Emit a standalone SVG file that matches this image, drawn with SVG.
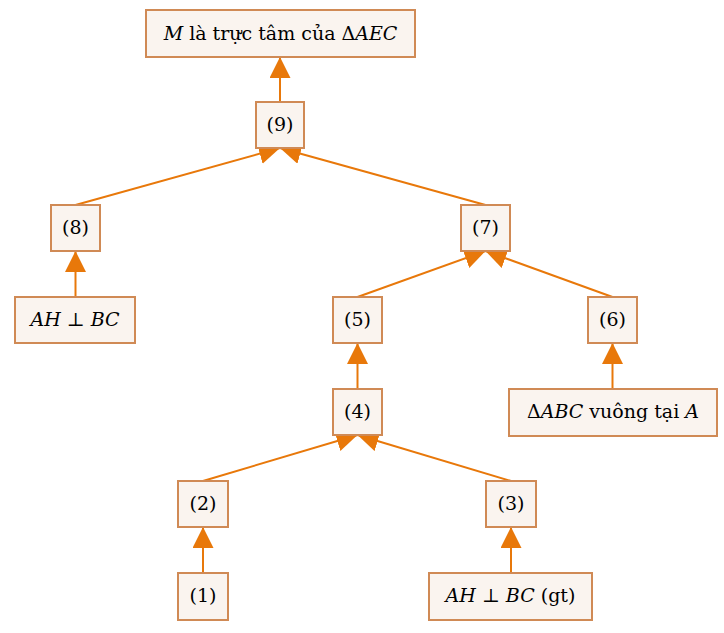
<svg xmlns="http://www.w3.org/2000/svg" width="724" height="633" viewBox="0 0 724 633">
<style>
.box{fill:#faf4ef;stroke:#d08a55;stroke-width:2}
.t{font-family:"DejaVu Serif","Liberation Serif",serif;font-size:19px;fill:#000;text-anchor:middle}
.i{font-style:italic}
.e{fill:none;stroke:#e8780a;stroke-width:2}
</style>
<defs>
<marker id="ah" markerUnits="userSpaceOnUse" markerWidth="24" markerHeight="24" refX="21" refY="10.5" orient="auto" viewBox="0 0 24 24">
<path d="M0,0 L21,10.5 L0,21 z" fill="#e8780a"/>
</marker>
</defs>
<g id="connectors">
<line class="e" x1="280" y1="102" x2="280" y2="57" marker-end="url(#ah)"/>
<line class="e" x1="75.5" y1="205" x2="280" y2="148" marker-end="url(#ah)"/>
<line class="e" x1="485.5" y1="205" x2="280" y2="148" marker-end="url(#ah)"/>
<line class="e" x1="75.5" y1="297" x2="75.5" y2="251" marker-end="url(#ah)"/>
<line class="e" x1="357.5" y1="297" x2="485.5" y2="251" marker-end="url(#ah)"/>
<line class="e" x1="612.5" y1="297" x2="485.5" y2="251" marker-end="url(#ah)"/>
<line class="e" x1="357.5" y1="389" x2="357.5" y2="343" marker-end="url(#ah)"/>
<line class="e" x1="612.5" y1="389" x2="612.5" y2="343" marker-end="url(#ah)"/>
<line class="e" x1="203" y1="481" x2="357.5" y2="435" marker-end="url(#ah)"/>
<line class="e" x1="511" y1="481" x2="357.5" y2="435" marker-end="url(#ah)"/>
<line class="e" x1="203" y1="573" x2="203" y2="527" marker-end="url(#ah)"/>
<line class="e" x1="511" y1="573" x2="511" y2="527" marker-end="url(#ah)"/>
</g>
<g id="top">
<rect class="box" x="146" y="10" width="269" height="47"/>
<text class="t" x="280.5" y="40"><tspan class="i">M</tspan> là trực tâm của Δ<tspan class="i">AEC</tspan></text>
</g>
<g id="n9">
<rect class="box" x="256" y="102" width="48" height="46"/>
<text class="t" x="280" y="131">(9)</text>
</g>
<g id="n8">
<rect class="box" x="51" y="205" width="49" height="46"/>
<text class="t" x="75.5" y="234">(8)</text>
</g>
<g id="n7">
<rect class="box" x="461" y="205" width="49" height="46"/>
<text class="t" x="485.5" y="234">(7)</text>
</g>
<g id="ahbc1">
<rect class="box" x="15" y="297" width="120" height="46"/>
<text class="t" x="75" y="326"><tspan class="i">AH</tspan> ⊥ <tspan class="i">BC</tspan></text>
</g>
<g id="n5">
<rect class="box" x="333" y="297" width="49" height="46"/>
<text class="t" x="357.5" y="326">(5)</text>
</g>
<g id="n6">
<rect class="box" x="588" y="297" width="49" height="46"/>
<text class="t" x="612.5" y="326">(6)</text>
</g>
<g id="n4">
<rect class="box" x="333" y="389" width="49" height="46"/>
<text class="t" x="357.5" y="418">(4)</text>
</g>
<g id="abc">
<rect class="box" x="509" y="389" width="208" height="47"/>
<text class="t" x="613" y="418">Δ<tspan class="i">ABC</tspan> vuông tại <tspan class="i">A</tspan></text>
</g>
<g id="n2">
<rect class="box" x="178" y="481" width="50" height="46"/>
<text class="t" x="203" y="510">(2)</text>
</g>
<g id="n3">
<rect class="box" x="486" y="481" width="50" height="46"/>
<text class="t" x="511" y="510">(3)</text>
</g>
<g id="n1">
<rect class="box" x="178" y="573" width="50" height="47"/>
<text class="t" x="203" y="602">(1)</text>
</g>
<g id="ahbc2">
<rect class="box" x="429" y="573" width="163" height="47"/>
<text class="t" x="510.5" y="602"><tspan class="i">AH</tspan> ⊥ <tspan class="i">BC</tspan> (gt)</text>
</g>
</svg>
